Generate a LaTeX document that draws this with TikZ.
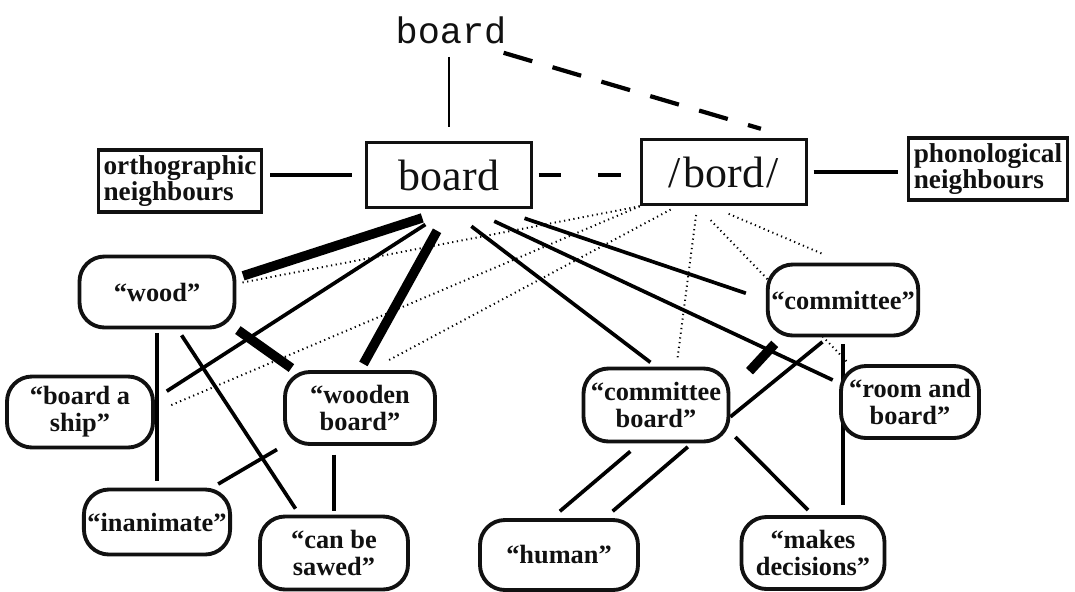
\documentclass[tikz,border=0pt]{standalone}
\usepackage{fontspec}
\setmainfont{Liberation Serif}
\newfontfamily\monofont{Liberation Mono}
\usetikzlibrary{backgrounds}
\definecolor{ink}{HTML}{111111}

\begin{document}
\begin{tikzpicture}[color=ink,text=ink,line cap=round,
  wordbox/.style={draw,line width=2pt,fill=white,minimum width=3.3cm,
    minimum height=1.3cm,font=\fontsize{25}{28}\selectfont},
  nbrbox/.style={draw,line width=2pt,fill=white,align=left,inner xsep=3pt,
    inner ysep=1.5pt,minimum height=1.24cm,
    font=\fontsize{15.5}{14.5}\selectfont\bfseries},
  sense/.style={draw,line width=2.2pt,fill=white,rounded corners=.5cm,
    align=center,inner xsep=2pt,minimum height=1.42cm,
    font=\fontsize{15}{15.5}\selectfont\bfseries},
  link/.style={line width=2.1pt,shorten <=4pt,shorten >=4pt},
  strong/.style={link,line width=5.4pt},
  weak/.style={line width=1.1pt,dash pattern=on .7pt off 2pt}]
  \useasboundingbox (0,0) rectangle (21.5,-11.82);

  % word forms
  \node[font=\monofont\fontsize{21}{24}\selectfont] (top) at (9.02,-0.6) {board};
  \node[nbrbox] (orth) at (3.6,-3.62) {orthographic\\neighbours};
  \node[wordbox] (word) at (8.98,-3.5) {board};
  \node[wordbox] (bord) at (14.48,-3.44) {/\kern1.5pt bord\kern1.5pt/};
  \node[nbrbox] (phono) at (19.76,-3.38) {phonological\\neighbours};

  % meanings
  \node[sense,minimum width=3.1cm] (wood) at (3.14,-5.84) {``wood''};
  \node[sense,minimum width=2.7cm] (comm) at (16.86,-6) {``committee''};
  \node[sense,minimum width=2.92cm] (ship) at (1.6,-8.24) {``board a\\ship''};
  \node[sense,minimum width=3cm,minimum height=1.44cm] (wooden) at (7.2,-8.16) {``wooden\\board''};
  \node[sense,minimum width=2.9cm,minimum height=1.46cm] (cboard) at (13.12,-8.1) {``committee\\board''};
  \node[sense,minimum width=2.76cm,minimum height=1.44cm] (room) at (18.2,-8.04) {``room and\\board''};
  \node[sense,minimum width=2.92cm,minimum height=1.3cm] (inanim) at (3.14,-10.44) {``inanimate''};
  \node[sense,minimum width=2.96cm,minimum height=1.46cm] (sawed) at (6.68,-11.06) {``can be\\sawed''};
  \node[sense,minimum width=3.16cm,minimum height=1.4cm] (human) at (11.18,-11.1) {``human''};
  \node[sense,minimum width=2.86cm,minimum height=1.44cm] (decide) at (16.26,-11.06) {``makes\\decisions''};

  \begin{pgfonlayer}{background}
    \draw[link,line width=1.6pt,shorten >=8pt] (top.south -| word.north) -- (word);
    \draw[link,line width=2.4pt,dash pattern=on 17pt off 12pt,shorten <=6pt,
      shorten >=18pt] (top.-25) -- (bord.27);
    \draw[link,shorten >=7pt] (word.west -| orth.east) -- (word.west);
    \draw[link,dash pattern=on 13pt off 21pt,shorten <=3pt,shorten >=0pt]
      (word.east) -- (word.east -| bord.west);
    \draw[link,shorten <=3pt,shorten >=5pt] (bord.east) -- (bord.east -| phono.west);

    % orthographic links
    \draw[strong,shorten <=16pt] (word.south) -- (wood.10);
    \draw[link,shorten <=16pt,shorten >=8pt] (word.south) -- (ship.10);
    \draw[strong,shorten <=14pt] (word.south) -- (wooden.north);
    \draw[link,shorten <=16pt] (word.south) -- (cboard.north);
    \draw[link,shorten <=16pt] (word.-60) -- (room.165);
    \draw[link,shorten <=16pt,shorten >=12pt] (word.-35) -- (comm.west);

    % phonological links
    \draw[weak,shorten >=3pt] (bord.south west) -- (wood.6);
    \draw[weak,shorten >=9pt] (bord.south west) -- (ship.east);
    \draw[weak,shorten <=4pt,shorten >=11pt] (bord.-144) -- (wooden.75);
    \draw[weak,shorten <=5pt,shorten >=5pt] (bord.-128) -- (cboard.62);
    \draw[weak,shorten <=11pt,shorten >=13pt] (bord.-111) -- (comm.north);
    \draw[weak,shorten <=11pt,shorten >=2pt] (bord.-128) -- (room.148);

    % features
    \draw[strong,shorten <=1pt,shorten >=2pt] (wood.-25) -- (wooden.150);
    \draw[link] (wood.-61) -- (sawed.132);
    \draw[link,shorten <=2pt] (wood.south) -- (inanim.north);
    \draw[link] (wooden.south west) -- (inanim.32);
    \draw[link,shorten <=5pt,shorten >=2pt] (wooden.south -| sawed.north) -- (sawed.north);
    \draw[link,shorten <=7pt,shorten >=6pt] (cboard.-113) -- (human.101);
    \draw[link,shorten <=3pt,shorten >=6pt] (cboard.-47) -- (human.39);
    \draw[link] (cboard.-20) -- (decide.north);
    \draw[link,shorten >=6pt] (comm.south) -- (comm.south |- decide.north);
    \draw[link,shorten >=0pt] (comm.-112) -- (cboard.-9);
    \draw[strong,shorten <=16pt,shorten >=5pt] (cboard.10) -- (comm.-149);
  \end{pgfonlayer}
\end{tikzpicture}
\end{document}
